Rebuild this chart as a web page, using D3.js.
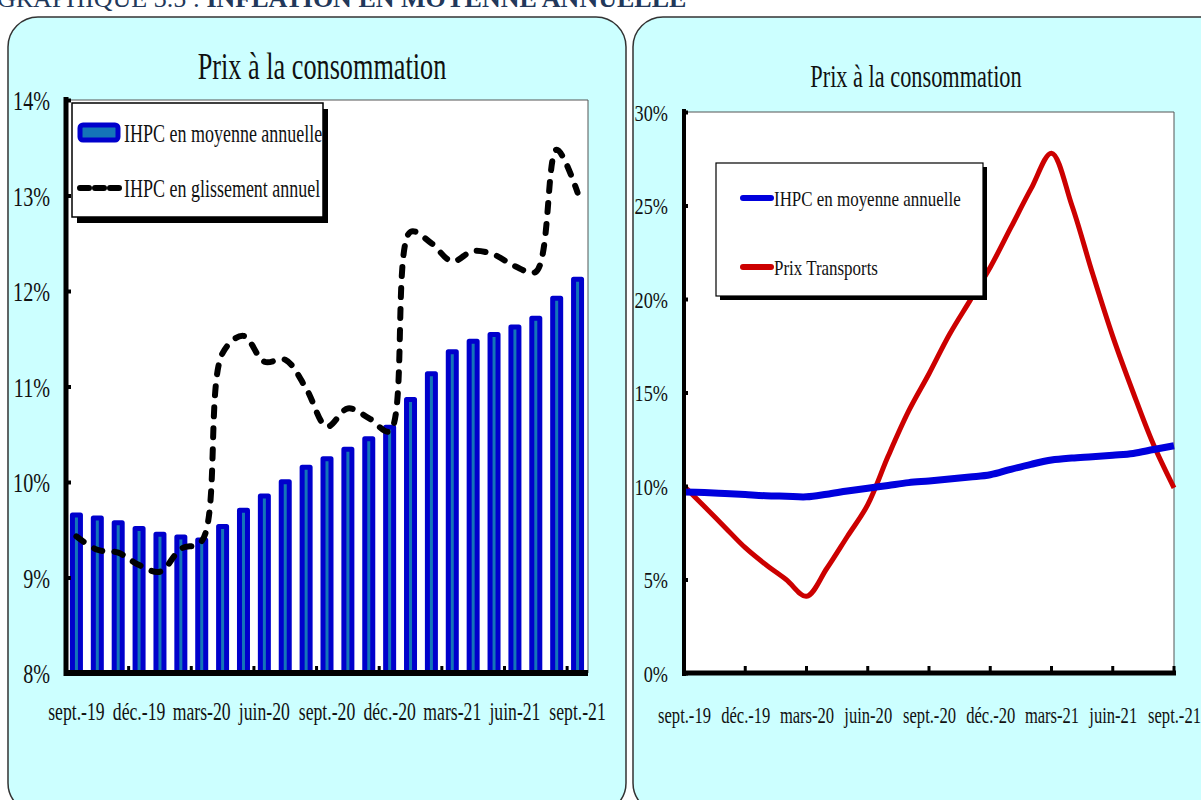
<!DOCTYPE html>
<html>
<head>
<meta charset="utf-8">
<script src="https://cdn.jsdelivr.net/npm/d3@7"></script>
<style>
  html, body { margin: 0; padding: 0; background: #ffffff; }
  svg { display: block; }
  text { font-family: "Liberation Serif", "DejaVu Serif", serif; fill: #111; }
</style>
</head>
<body>
<svg id="chart" width="1201" height="800"></svg>
<script>
// ---------------- DATA ----------------
const months = ["sept.-19","oct.-19","nov.-19","déc.-19","janv.-20","févr.-20","mars-20","avr.-20","mai-20","juin-20","juil.-20","août-20",
                "sept.-20","oct.-20","nov.-20","déc.-20","janv.-21","févr.-21","mars-21","avr.-21","mai-21","juin-21","juil.-21","août-21","sept.-21"];
const tickLabels = ["sept.-19","déc.-19","mars-20","juin-20","sept.-20","déc.-20","mars-21","juin-21","sept.-21"];
// IHPC en moyenne annuelle (%)
const ihpcMoyenne = [9.68,9.65,9.60,9.54,9.48,9.45,9.42,9.56,9.73,9.88,10.03,10.18,10.27,10.37,10.48,10.60,10.89,11.16,11.39,11.50,11.57,11.65,11.74,11.95,12.15];
// IHPC en glissement annuel (%)
const ihpcGlissement = [9.43,9.29,9.26,9.13,9.06,9.30,9.38,11.35,11.53,11.26,11.28,10.98,10.58,10.77,10.67,10.53,12.62,12.50,12.31,12.42,12.38,12.26,12.20,13.48,13.03];
// Prix Transports (%)
const prixTransports = [10.0,8.9,7.8,6.7,5.8,5.0,4.1,5.6,7.3,9.0,11.6,14.0,16.0,18.1,19.9,21.7,23.8,25.9,27.8,25.0,21.4,18.0,15.0,12.2,9.9];
const leftYTicks = [8,9,10,11,12,13,14];
const rightYTicks = [0,5,10,15,20,25,30];
const chartTitle = "Prix à la consommation";
const heading1 = "GRAPHIQUE 3.5 : ";
const heading2 = "INFLATION EN MOYENNE ANNUELLE";
const legendLeft = ["IHPC en moyenne annuelle","IHPC en glissement annuel"];
const legendRight = ["IHPC en moyenne annuelle","Prix Transports"];

// ---------------- HELPERS ----------------
const svg = d3.select("#chart");
// horizontally condensed serif text (narrow Garamond look): scale around the anchor point
function squeeze(sel, f) {
  sel.each(function() {
    const t = d3.select(this);
    const x = +t.attr("x") || 0;
    t.attr("x", x / f).attr("transform", `scale(${f},1)`);
  });
}
const labelIdx = tickLabels.map(l => months.indexOf(l));

// ---------------- HEADING ----------------
const head = svg.append("text").attr("x", -3).attr("y", 7).style("font-size", "26px").style("fill", "#22385a");
head.append("tspan").text(heading1).style("fill", "#22385a");
head.append("tspan").text(heading2).style("font-weight", "bold").style("fill", "#22385a");

// ---------------- PANELS ----------------
svg.append("rect").attr("x", 8).attr("y", 17).attr("width", 618).attr("height", 796).attr("rx", 30)
  .attr("fill", "#ccffff").attr("stroke", "#333").attr("stroke-width", 1.5);
svg.append("rect").attr("x", 633).attr("y", 17).attr("width", 610).attr("height", 796).attr("rx", 30)
  .attr("fill", "#ccffff").attr("stroke", "#333").attr("stroke-width", 1.5);

// ================= LEFT CHART =================
const L = {x0: 66, x1: 588, y0: 673, y1: 100};
const xL = d3.scaleBand().domain(months).range([L.x0, L.x1]).paddingInner(0).paddingOuter(0);
const yL = d3.scaleLinear().domain([8, 14]).range([L.y0, L.y1]);
const gL = svg.append("g");

gL.append("rect").attr("x", L.x0).attr("y", L.y1).attr("width", L.x1 - L.x0).attr("height", L.y0 - L.y1)
  .attr("fill", "#fff");
gL.append("path").attr("d", `M${L.x0},${L.y1}H${L.x1}V${L.y0}`).attr("fill", "none").attr("stroke", "#555").attr("stroke-width", 1);

svg.append("text").attr("x", 322).attr("y", 79).attr("text-anchor", "middle")
  .style("font-size", "37px").text(chartTitle).call(squeeze, 0.71);

// bars
const bw = xL.bandwidth();
gL.append("g").selectAll("rect").data(ihpcMoyenne).join("rect")
  .attr("x", (d, i) => xL(months[i]) + bw / 2 - 4)
  .attr("width", 8)
  .attr("y", d => yL(d) + 2.5)
  .attr("height", d => yL(8) - yL(d) - 2.5)
  .attr("fill", "#1475b8").attr("stroke", "#0000cc").attr("stroke-width", 5).attr("stroke-linejoin", "round");

// dashed line
const lineL = d3.line().x((d, i) => xL(months[i]) + bw / 2).y(d => yL(d)).curve(d3.curveCatmullRom.alpha(0.5));
gL.append("path").datum(ihpcGlissement).attr("d", lineL).attr("fill", "none")
  .attr("stroke", "#000").attr("stroke-width", 6).attr("stroke-dasharray", "9,12").attr("stroke-linecap", "round");

// y axis
const yAxL = gL.append("g").attr("transform", `translate(${L.x0},0)`)
  .call(d3.axisLeft(yL).tickValues(leftYTicks).tickFormat(d => d + "%").tickSizeInner(-5).tickSizeOuter(0).tickPadding(16));
yAxL.select(".domain").attr("stroke", "#000").attr("stroke-width", 5).attr("d", `M0,${L.y1 - 3}V${L.y0 + 3}`);
yAxL.selectAll(".tick line").attr("stroke", "#000").attr("stroke-width", 4);
yAxL.selectAll(".tick text").style("font-size", "28px").attr("fill", "#111").attr("dy", "0.34em").call(squeeze, 0.72);

// x axis
const xAxL = gL.append("g").attr("transform", `translate(0,${L.y0})`)
  .call(d3.axisBottom(xL).tickValues(tickLabels).tickSize(0).tickPadding(0));
xAxL.select(".domain").attr("stroke", "#000").attr("stroke-width", 6).attr("d", `M${L.x0 - 2},0H${L.x1}`);
xAxL.selectAll(".tick text").style("font-size", "26px").attr("fill", "#111").attr("y", 47).attr("dy", 0).call(squeeze, 0.68);
gL.append("g").selectAll("line").data(labelIdx.slice(1)).join("line")
  .attr("x1", i => xL(months[i])).attr("x2", i => xL(months[i]))
  .attr("y1", L.y0).attr("y2", L.y0 - 7).attr("stroke", "#000").attr("stroke-width", 3);

// legend
const lgL = gL.append("g");
lgL.append("rect").attr("x", 77).attr("y", 109).attr("width", 251).attr("height", 114).attr("fill", "#000");
lgL.append("rect").attr("x", 72).attr("y", 103).attr("width", 251).attr("height", 114).attr("fill", "#fff").attr("stroke", "#000").attr("stroke-width", 1.5);
lgL.append("rect").attr("x", 80).attr("y", 125).attr("width", 38).attr("height", 15).attr("rx", 3)
  .attr("fill", "#1475b8").attr("stroke", "#0000cc").attr("stroke-width", 5);
lgL.append("path").attr("d", "M80,188H122").attr("stroke", "#000").attr("stroke-width", 6)
  .attr("stroke-dasharray", "9,6").attr("stroke-linecap", "round");
lgL.selectAll("text").data(legendLeft).join("text")
  .attr("x", 124).attr("y", (d, i) => i === 0 ? 142 : 197)
  .style("font-size", "25px").text(d => d).call(squeeze, 0.72);

// ================= RIGHT CHART =================
const R = {x0: 684, x1: 1174, y0: 673, y1: 112};
const xR = d3.scalePoint().domain(months).range([R.x0, R.x1]);
const yR = d3.scaleLinear().domain([0, 30]).range([R.y0, R.y1]);
const gR = svg.append("g");

gR.append("rect").attr("x", R.x0).attr("y", R.y1).attr("width", R.x1 - R.x0).attr("height", R.y0 - R.y1).attr("fill", "#fff");
gR.append("path").attr("d", `M${R.x0},${R.y1}H${R.x1}V${R.y0}`).attr("fill", "none").attr("stroke", "#555").attr("stroke-width", 1);

svg.append("text").attr("x", 916).attr("y", 87).attr("text-anchor", "middle")
  .style("font-size", "31px").text(chartTitle).call(squeeze, 0.72);

const lineR = d3.line().x((d, i) => xR(months[i])).y(d => yR(d)).curve(d3.curveCatmullRom.alpha(0.5));
gR.append("path").datum(prixTransports).attr("d", lineR).attr("fill", "none")
  .attr("stroke", "#cc0000").attr("stroke-width", 5).attr("stroke-linejoin", "round");
gR.append("path").datum(ihpcMoyenne).attr("d", lineR).attr("fill", "none")
  .attr("stroke", "#0000dd").attr("stroke-width", 7).attr("stroke-linejoin", "round");

const lgR = gR.append("g");
lgR.append("rect").attr("x", 720).attr("y", 167).attr("width", 267).attr("height", 133).attr("fill", "#000");
lgR.append("rect").attr("x", 716).attr("y", 163).attr("width", 267).attr("height", 133).attr("fill", "#fff").attr("stroke", "#000").attr("stroke-width", 1.2);
lgR.append("path").attr("d", "M743,198H771").attr("stroke", "#0000dd").attr("stroke-width", 6).attr("stroke-linecap", "round");
lgR.append("path").attr("d", "M743,267H771").attr("stroke", "#cc0000").attr("stroke-width", 6).attr("stroke-linecap", "round");
lgR.selectAll("text").data(legendRight).join("text")
  .attr("x", 774).attr("y", (d, i) => i === 0 ? 206 : 275)
  .style("font-size", "22px").text(d => d).call(squeeze, 0.77);

// y axis
const yAxR = gR.append("g").attr("transform", `translate(${R.x0},0)`)
  .call(d3.axisLeft(yR).tickValues(rightYTicks).tickFormat(d => d + "%").tickSizeInner(-4).tickSizeOuter(0).tickPadding(16));
yAxR.select(".domain").attr("stroke", "#000").attr("stroke-width", 4).attr("d", `M0,${R.y1 - 3}V${R.y0 + 3}`);
yAxR.selectAll(".tick line").attr("stroke", "#000").attr("stroke-width", 4);
yAxR.selectAll(".tick text").style("font-size", "24px").attr("fill", "#111").attr("dy", "0.34em").call(squeeze, 0.76);

// x axis
const xAxR = gR.append("g").attr("transform", `translate(0,${R.y0})`)
  .call(d3.axisBottom(xR).tickValues(tickLabels).tickSize(0).tickPadding(0));
xAxR.select(".domain").attr("stroke", "#000").attr("stroke-width", 5).attr("d", `M${R.x0 - 2},0H${R.x1 + 2}`);
xAxR.selectAll(".tick text").style("font-size", "23px").attr("fill", "#111").attr("y", 50).attr("dy", 0).call(squeeze, 0.72);
gR.append("g").selectAll("line").data(labelIdx.slice(1)).join("line")
  .attr("x1", i => xR(months[i])).attr("x2", i => xR(months[i]))
  .attr("y1", R.y0).attr("y2", R.y0 - 7).attr("stroke", "#000").attr("stroke-width", 3);
</script>
</body>
</html>
